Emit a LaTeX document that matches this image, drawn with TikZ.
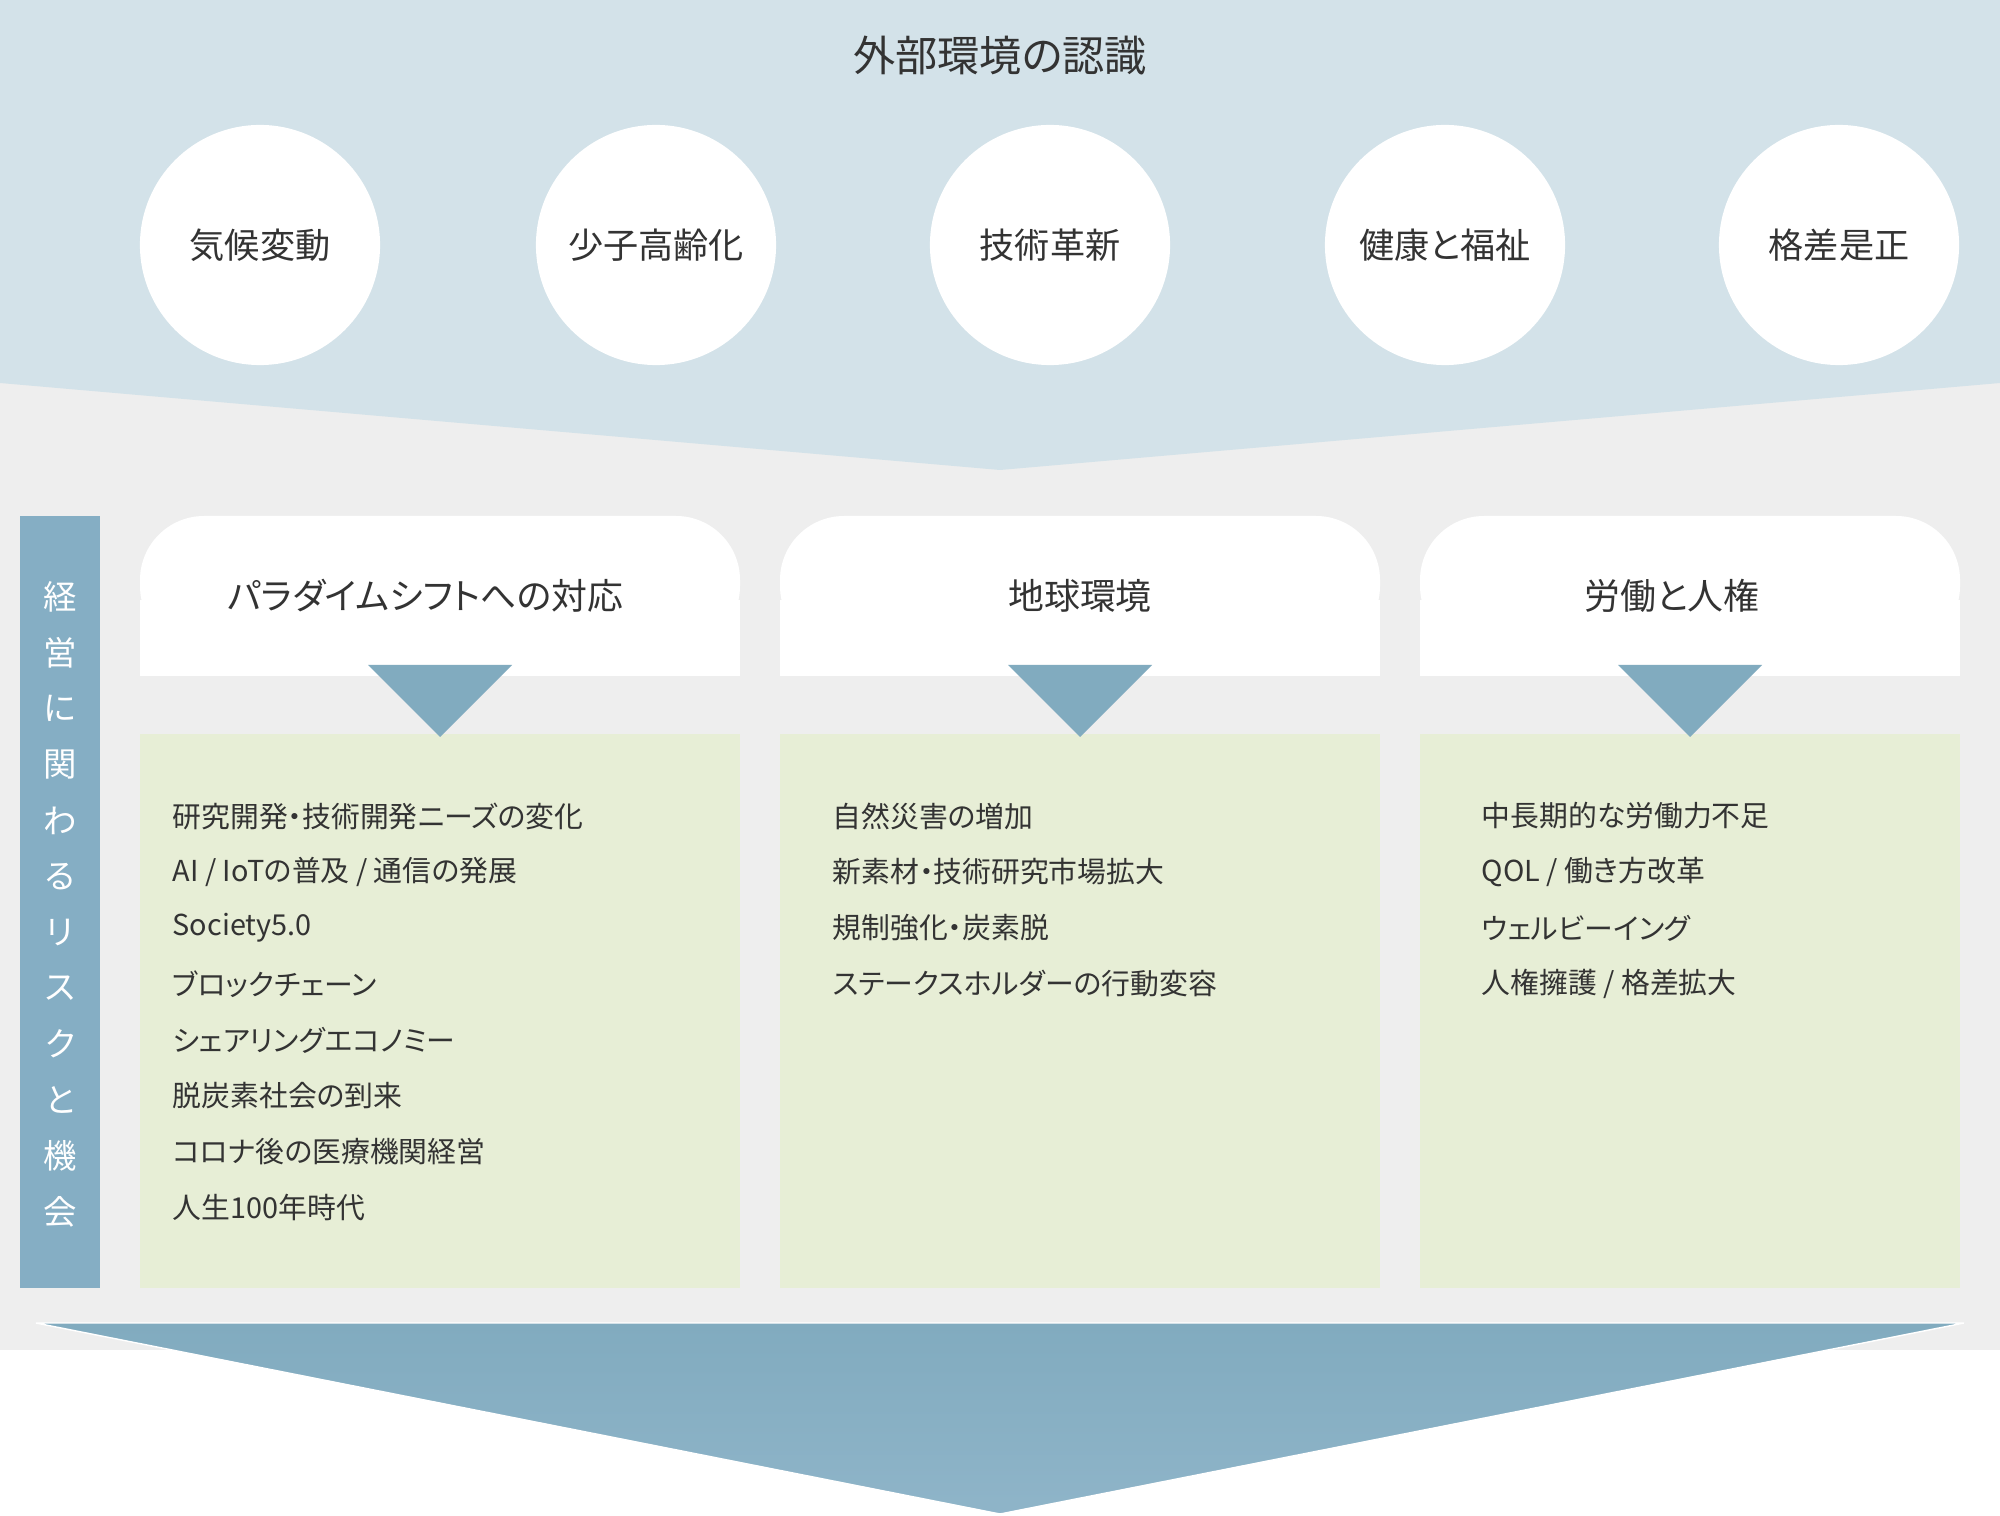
\documentclass[tikz,border=0pt]{standalone}
\usepackage{fontspec}
\setmainfont{Noto Sans CJK JP}[RawFeature=+palt]
\usepackage{xcolor}
\usepackage{tikz}
\usetikzlibrary{positioning}

\definecolor{skyband}{HTML}{D3E2E9}
\definecolor{paleground}{HTML}{EEEEEE}
\definecolor{steelblue}{HTML}{85AEC4}
\definecolor{pointer}{HTML}{81ABBF}
\definecolor{sage}{HTML}{E7EED6}
\definecolor{ink}{HTML}{333333}

\begin{document}
\begin{tikzpicture}[x=0.01cm,y=-0.01cm,
    txt/.style={text=ink,inner sep=0pt},
    topic/.style={circle,fill=white,minimum size=2.4cm,txt,font=\fontsize{10}{12}\selectfont},
    head/.style={txt,font=\fontsize{10.2}{12}\selectfont},
    entry/.style={txt,anchor=west,font=\fontsize{8.2}{10}\selectfont}]
  \useasboundingbox (0,0) rectangle (2000,1516);
  \fill[white] (0,0) rectangle (2000,1516);
  % backgrounds
  \fill[paleground] (0,383) rectangle (2000,1350);
  \fill[skyband] (0,0) -- (2000,0) -- (2000,383) -- (1000,470) -- (0,383) -- cycle;
  \node[txt,font=\fontsize{12}{14}\selectfont] (title) at (1000,56) {外部環境の認識};
  % outside factors
  \foreach \x/\t [count=\i] in {260/気候変動,656/少子高齢化,1050/技術革新,1445/健康と福祉,1839/格差是正}
    \node[topic] (c\i) at (\x,245) {\t};
  % side bar
  \fill[steelblue] (20,516) rectangle (100,1288);
  \foreach \c [count=\i] in {経,営,に,関,わ,る,リ,ス,ク,と,機,会}
    \node[inner sep=0pt,text=white,font=\fontsize{9.5}{11}\selectfont] (v\i) at (60,{597+55.9*(\i-1)}) {\c};
  % columns
  \foreach \xa/\xb in {140/740,780/1380,1420/1960} {
    \fill[white,rounded corners=0.64cm] (\xa,516) rectangle (\xb,650);
    \fill[white] (\xa,600) rectangle (\xb,676);
    \fill[sage] (\xa,734) rectangle (\xb,1288);
    \fill[pointer] ({(\xa+\xb)/2-72},665) -- ({(\xa+\xb)/2+72},665) -- ({(\xa+\xb)/2},737) -- cycle;
  }
  \node[head,anchor=west] (h1) at (227,596) {パラダイムシフトへの対応};
  \node[head] (h2) at (1080,596) {地球環境};
  \node[head] (h3) at (1672,596) {労働と人権};
  \foreach \t [count=\i] in {研究開発・技術開発ニーズの変化,AI / IoTの普及 / 通信の発展,Society5.0,ブロックチェーン,シェアリングエコノミー,脱炭素社会の到来,コロナ後の医療機関経営,人生100年時代}
    \node[entry] (a\i) at (172,{816+56*(\i-1)}) {\t};
  \foreach \t [count=\i] in {自然災害の増加,新素材・技術研究市場拡大,規制強化・炭素脱,ステークスホルダーの行動変容}
    \node[entry] (b\i) at (832,{816+56*(\i-1)}) {\t};
  \foreach \t [count=\i] in {中長期的な労働力不足,QOL / 働き方改革,ウェルビーイング,人権擁護 / 格差拡大}
    \node[entry] (d\i) at (1481,{816+56*(\i-1)}) {\t};
  % result arrow
  \shade[top color=pointer,bottom color=steelblue!92!white,draw=white,line width=0.4pt]
    (36,1323) -- (1964,1323) -- (1000,1514) -- cycle;
\end{tikzpicture}
\end{document}
